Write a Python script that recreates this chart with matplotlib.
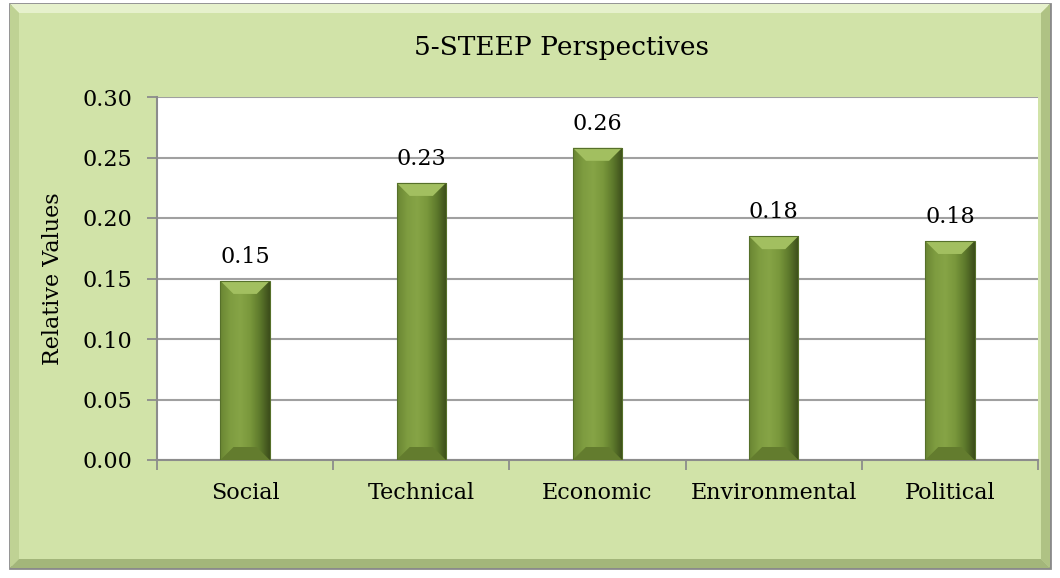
import numpy as np
import matplotlib
matplotlib.use('Agg')
import matplotlib.pyplot as plt
from matplotlib.patches import Polygon, Rectangle
from matplotlib.colors import LinearSegmentedColormap

plt.rcParams['font.family'] = 'DejaVu Serif'

# data
categories = ['Social', 'Technical', 'Economic', 'Environmental', 'Political']
values = [0.148, 0.229, 0.258, 0.185, 0.181]
labels = ['0.15', '0.23', '0.26', '0.18', '0.18']
yticks = [0.00, 0.05, 0.10, 0.15, 0.20, 0.25, 0.30]

W, H = 1060, 578
fig = plt.figure(figsize=(W / 100, H / 100), dpi=100, facecolor='white')

# outer frame with a bevel, in figure coords
def fx(px):
    return px / W

def fy(py):
    return 1 - py / H

x0, x1, y0, y1, bv = 10, 1050, 4, 568, 9
bg = '#D1E3A8'
fig.patches.append(Rectangle((fx(x0), fy(y1)), fx(x1) - fx(x0), fy(y0) - fy(y1),
                             transform=fig.transFigure, facecolor=bg,
                             edgecolor='#8A8A8A', lw=2, zorder=-2))
bevels = [
    ([(x0, y0), (x1, y0), (x1 - bv, y0 + bv), (x0 + bv, y0 + bv)], '#E6F1CC'),
    ([(x0, y0), (x0 + bv, y0 + bv), (x0 + bv, y1 - bv), (x0, y1)], '#BFD294'),
    ([(x1, y0), (x1, y1), (x1 - bv, y1 - bv), (x1 - bv, y0 + bv)], '#AFC284'),
    ([(x0, y1), (x1, y1), (x1 - bv, y1 - bv), (x0 + bv, y1 - bv)], '#A3B67A'),
]
for pts, c in bevels:
    fig.patches.append(Polygon([(fx(a), fy(b)) for a, b in pts], closed=True,
                               transform=fig.transFigure, facecolor=c,
                               edgecolor='none', zorder=-1))

ax = fig.add_axes([157 / W, 1 - 460 / H, (1038 - 157) / W, (460 - 97) / H])
ax.set_facecolor('white')

xs = np.arange(len(categories))
bw = 0.28
ax.set_xlim(-0.5, len(categories) - 0.5)
ax.set_ylim(0, 0.30)

body_cmap = LinearSegmentedColormap.from_list(
    'body', ['#6A8633', '#7E9C40', '#86A446', '#7A983C', '#5E7A2C', '#3C4D1B'])
grad = np.linspace(0, 1, 100).reshape(1, -1)

# bevel sizes in data units (about 13 px horizontally, 12 px vertically)
bx = bw * 13 / 49
by = 0.30 * 13 / 363

bars = ax.bar(xs, values, width=bw, color='none', zorder=3)
for bar in bars:
    l = bar.get_x()
    r = l + bar.get_width()
    h = bar.get_height()
    im = ax.imshow(grad, cmap=body_cmap, extent=(l, r, 0, h), aspect='auto', zorder=3)
    im.set_clip_path(Rectangle((l, 0), r - l, h, transform=ax.transData))
    ax.add_patch(Polygon([(l, h), (r, h), (r - bx, h - by), (l + bx, h - by)],
                         facecolor='#A2BF60', edgecolor='none', zorder=4))
    ax.add_patch(Polygon([(l, 0), (r, 0), (r - bx, by), (l + bx, by)],
                         facecolor='#637C2E', edgecolor='none', zorder=4))
    ax.add_patch(Rectangle((l, 0), r - l, h, facecolor='none',
                           edgecolor='#56702A', lw=0.8, zorder=5))

for x, v, t in zip(xs, values, labels):
    ax.annotate(t, (x, v), xytext=(0, 13), textcoords='offset points',
                ha='center', va='baseline', fontsize=16, color='black')

ax.set_xlim(-0.5, len(categories) - 0.5)
ax.set_ylim(0, 0.30)
ax.set_yticks(yticks)
ax.set_yticklabels(['%.2f' % t for t in yticks])
ax.set_xticks(xs)
ax.set_xticklabels(categories)
ax.set_xticks(np.arange(-0.5, len(categories)), minor=True)
ax.tick_params(axis='x', which='major', length=0, pad=16, labelsize=16)
ax.tick_params(axis='x', which='minor', length=7, width=1.3, color='#8C8C8C', direction='out')
ax.tick_params(axis='y', length=7, width=1.3, color='#8C8C8C', pad=11, labelsize=16)
ax.grid(axis='y', color='#A0A0A0', lw=1.5, zorder=1)
ax.set_axisbelow(True)
for s in ['top', 'right']:
    ax.spines[s].set_visible(False)
for s in ['left', 'bottom']:
    ax.spines[s].set_color('#8C8C8C')
    ax.spines[s].set_linewidth(1.5)

ax.set_ylabel('Relative Values', fontsize=16, labelpad=13)
fig.text(562 / W, 1 - 48 / H, '5-STEEP Perspectives', ha='center', va='center', fontsize=19)

fig.savefig('out.png', dpi=100, facecolor=fig.get_facecolor())
